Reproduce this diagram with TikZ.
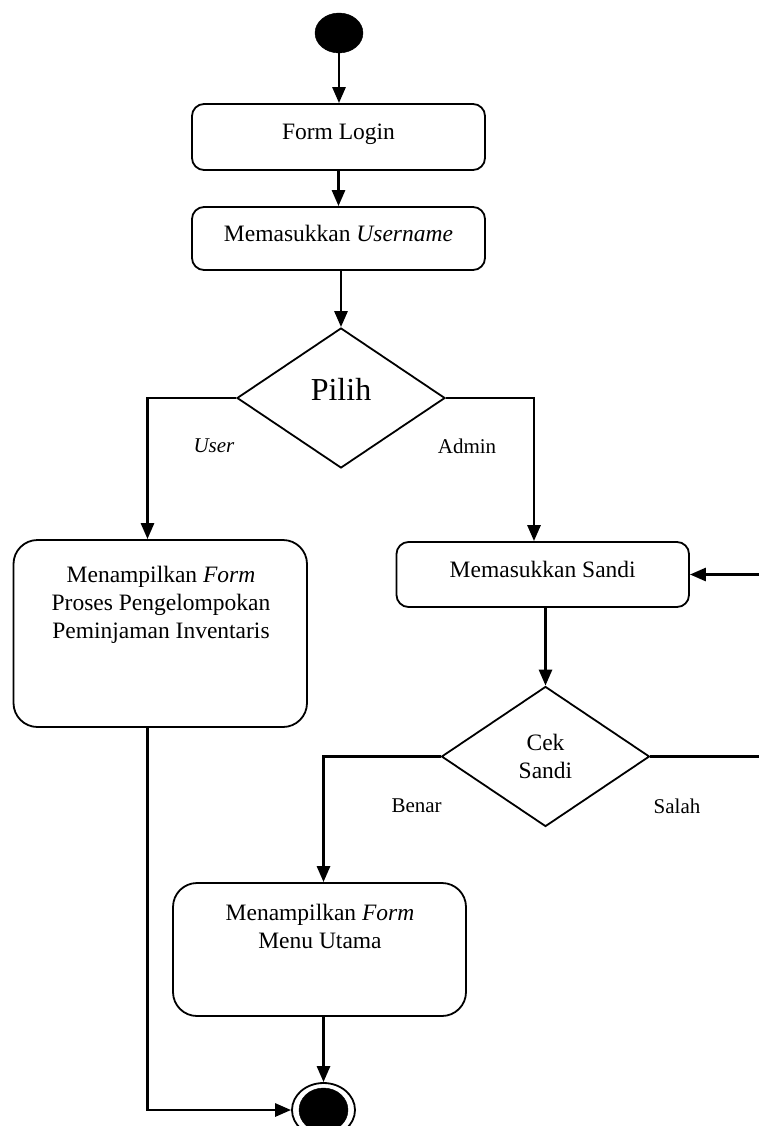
\documentclass[tikz,border=0pt]{standalone}
\usepackage{fontspec}
\setmainfont{Liberation Serif}
\usetikzlibrary{shapes.geometric,arrows.meta}

\tikzstyle{flow}=[line width=2.8pt, -{Triangle[width=13pt,length=16pt]}]
\tikzstyle{act}=[draw, line width=1.8pt, rounded corners=12pt, minimum width=293pt, inner sep=0pt, font={\fontsize{23.5}{28}\selectfont}, text height=15pt, text depth=10pt]
\tikzstyle{bigact}=[draw, line width=1.8pt, rounded corners=24pt, minimum width=293pt]
\tikzstyle{choice}=[draw, diamond, line width=1.8pt, minimum width=208pt, minimum height=140pt, inner sep=0pt, align=center, font={\fontsize{23.5}{28}\selectfont}]
\tikzstyle{txt}=[inner sep=0pt, align=center, font={\fontsize{23.5}{28}\selectfont}]
\tikzstyle{guard}=[inner sep=0pt, font={\fontsize{21}{25}\selectfont}]
\tikzstyle{dot}=[draw, fill, ellipse, inner sep=0pt]

\begin{document}
\begin{tikzpicture}[x=1pt, y=-1pt]
    \useasboundingbox (0,0) rectangle (758,1126);
    \node[dot, minimum width=48pt, minimum height=40pt] (start) at (339,33) {};
    \node[act, minimum height=66pt] (login) at (338.5,137) {Form Login};
    \node[act, minimum height=63pt] (username) at (338.5,238.5) {Memasukkan \textit{Username}};
    \node[choice] (pilih) at (341,398) {};
    \node[inner sep=0pt, font={\fontsize{32}{38}\selectfont}] (pilihtxt) at (341,389) {Pilih};
    \node[bigact, minimum width=293.5pt, minimum height=187pt] (showform) at (160.25,633.5) {};
    \node[txt, anchor=north] (showformtxt) at (161,566) {Menampilkan \textit{Form}\\Proses Pengelompokan\\Peminjaman Inventaris};
    \node[act, minimum width=292.5pt, minimum height=65pt] (sandi) at (542.75,574.5) {Memasukkan Sandi};
    \node[choice] (cek) at (545.5,756.5) {Cek\\Sandi};
    \node[bigact, minimum height=133pt] (menu) at (319.5,949.5) {};
    \node[txt, anchor=north] (menutxt) at (320,904.3) {Menampilkan \textit{Form}\\Menu Utama};
    \node[draw, ellipse, line width=1.8pt, minimum width=63pt, minimum height=54pt] (finish) at (323.5,1110) {};
    \node[dot, minimum width=49pt, minimum height=44pt] (finishdot) at (323.5,1110) {};

    \node[guard, font={\fontsize{21}{25}\selectfont\itshape}] (usr) at (214,446) {User};
    \node[guard] (admin) at (467,446) {Admin};
    \node[guard] (benar) at (416.6,806) {Benar};
    \node[guard] (salah) at (677,806) {Salah};

    \coordinate (loop) at (762,756.5);
    \draw[flow] (start.south) -- (start.south |- login.north);
    \draw[flow] (login) -- (username);
    \draw[flow] (username.south -| pilih.north) -- (pilih.north);
    \draw[flow] (pilih.west) -| ([xshift=-12.75pt]showform.north);
    \draw[flow] (pilih.east) -| ([xshift=-8.75pt]sandi.north);
    \draw[flow] (sandi.south -| cek.north) -- (cek.north);
    \draw[flow] (cek.west) -| ([xshift=4pt]menu.north);
    \draw[flow] (cek.east) -- (loop) |- (sandi.east);
    \draw[flow] (finish.north |- menu.south) -- (finish.north);
    \draw[flow] ([xshift=-12.75pt]showform.south) |- (finish.west);
  \end{tikzpicture}
\end{document}
